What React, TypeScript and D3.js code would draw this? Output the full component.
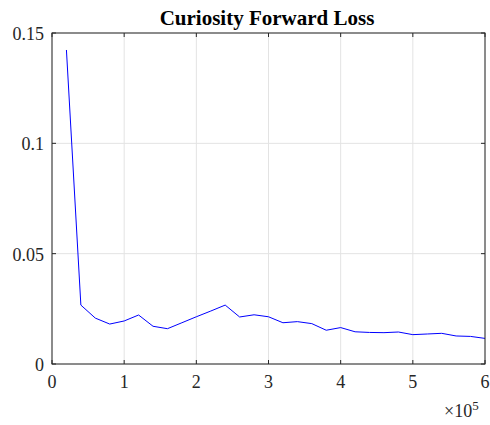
import React from "react";
import * as d3 from "d3";

// training steps and forward loss
const steps = [
  20000, 40000, 60000, 80000, 100000, 120000, 140000, 160000, 180000, 200000,
  220000, 240000, 260000, 280000, 300000, 320000, 340000, 360000, 380000, 400000,
  420000, 440000, 460000, 480000, 500000, 520000, 540000, 560000, 580000, 600000,
];
const loss = [
  0.1423, 0.0267, 0.0208, 0.0181, 0.0195, 0.0222, 0.0171, 0.016, 0.0187, 0.0214,
  0.024, 0.0267, 0.0213, 0.0223, 0.0214, 0.0187, 0.0192, 0.0183, 0.0153, 0.0165,
  0.0146, 0.0143, 0.0142, 0.0145, 0.0133, 0.0136, 0.0139, 0.0127, 0.0125, 0.0116,
];
const xTicks = [0, 1, 2, 3, 4, 5, 6];
const yTicks = [0, 0.05, 0.1, 0.15];

const W = 490;
const H = 425;
const left = 52;
const right = 485;
const top = 33;
const bottom = 364;

export default function App() {
  const x = d3.scaleLinear().domain([0, 600000]).range([left, right]);
  const y = d3.scaleLinear().domain([0, 0.15]).range([bottom, top]);
  const line = d3
    .line<number>()
    .x((_, i) => x(steps[i]))
    .y((d) => y(d));

  const axisColor = "#262626";
  const font = "'Liberation Serif', 'Times New Roman', serif";

  return (
    <svg
      width={W}
      height={H}
      style={{ position: "absolute", left: 0, top: 0, background: "#fff", fontFamily: font }}
    >
      {/* grid */}
      {xTicks.map((t) => (
        <line key={"gx" + t} x1={x(t * 1e5)} x2={x(t * 1e5)} y1={top} y2={bottom} stroke="#e3e3e3" />
      ))}
      {yTicks.map((t) => (
        <line key={"gy" + t} x1={left} x2={right} y1={y(t)} y2={y(t)} stroke="#e3e3e3" />
      ))}

      <path d={line(loss) ?? ""} fill="none" stroke="#0000ff" strokeWidth={1} />

      {/* box and inward ticks */}
      <rect x={left} y={top} width={right - left} height={bottom - top} fill="none" stroke={axisColor} strokeWidth={1} />
      {xTicks.map((t) => (
        <g key={"tx" + t}>
          <line x1={x(t * 1e5)} x2={x(t * 1e5)} y1={bottom} y2={bottom - 4} stroke={axisColor} />
          <line x1={x(t * 1e5)} x2={x(t * 1e5)} y1={top} y2={top + 4} stroke={axisColor} />
          <text x={x(t * 1e5)} y={388} textAnchor="middle" fontSize={18} fill={axisColor}>
            {t}
          </text>
        </g>
      ))}
      {yTicks.map((t) => (
        <g key={"ty" + t}>
          <line x1={left} x2={left + 4} y1={y(t)} y2={y(t)} stroke={axisColor} />
          <line x1={right} x2={right - 4} y1={y(t)} y2={y(t)} stroke={axisColor} />
          <text x={44} y={y(t) + 7} textAnchor="end" fontSize={18} fill={axisColor}>
            {String(t)}
          </text>
        </g>
      ))}

      {/* exponent */}
      <text x={444} y={417} fontSize={18} fill={axisColor}>
        ×10<tspan dy={-7} fontSize={13}>5</tspan>
      </text>

      <text x={267} y={25} textAnchor="middle" fontSize={21} fontWeight="bold" fill="#000">
        Curiosity Forward Loss
      </text>
    </svg>
  );
}
